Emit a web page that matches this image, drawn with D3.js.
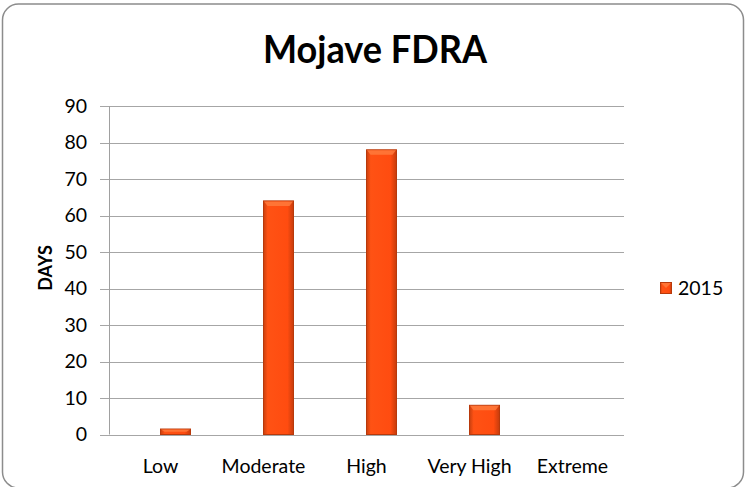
<!DOCTYPE html>
<html>
<head>
<meta charset="utf-8">
<script src="https://cdn.jsdelivr.net/npm/d3@7"></script>
<style>
  html, body { margin: 0; padding: 0; background: #fff; }
  svg { display: block; font-family: Lato, "Open Sans", sans-serif; }
</style>
</head>
<body>
<svg id="chart" width="745" height="487"></svg>
<script>
const categories = ['Low', 'Moderate', 'High', 'Very High', 'Extreme'];
const days2015 = [1.5, 64, 78, 8, 0];
const yTicks = [0, 10, 20, 30, 40, 50, 60, 70, 80, 90];
const seriesName = '2015';

const svg = d3.select('#chart');

// outer frame
svg.append('rect')
    .attr('x', 2.5).attr('y', 4)
    .attr('width', 741).attr('height', 484)
    .attr('rx', 16)
    .attr('fill', '#fff')
    .attr('stroke', '#8c8c8c')
    .attr('stroke-width', 1.5);

const defs = svg.append('defs');
const grad = defs.append('linearGradient').attr('id', 'barGrad')
    .attr('x1', '0%').attr('x2', '100%').attr('y1', '0%').attr('y2', '0%');
grad.append('stop').attr('offset', '0%').attr('stop-color', '#c9400f');
grad.append('stop').attr('offset', '14%').attr('stop-color', '#ff5214');
grad.append('stop').attr('offset', '80%').attr('stop-color', '#ff4c10');
grad.append('stop').attr('offset', '100%').attr('stop-color', '#c63c0c');

const x = d3.scaleBand().domain(categories).range([109, 624]);
const y = d3.scaleLinear().domain([0, 90]).range([434.5, 106]);

// gridlines
svg.append('g')
    .selectAll('line')
    .data(yTicks)
    .join('line')
    .attr('x1', 100).attr('x2', 624)
    .attr('y1', d => Math.round(y(d)) + 0.5)
    .attr('y2', d => Math.round(y(d)) + 0.5)
    .attr('stroke', '#a6a6a6')
    .attr('stroke-width', 1);

// y axis line
svg.append('line')
    .attr('x1', 109.5).attr('x2', 109.5)
    .attr('y1', y(90)).attr('y2', y(0))
    .attr('stroke', '#a0a0a0');

// y tick labels
svg.append('g')
    .selectAll('text')
    .data(yTicks)
    .join('text')
    .attr('x', 87)
    .attr('y', d => y(d))
    .attr('dy', '0.35em')
    .attr('text-anchor', 'end')
    .attr('font-size', 19.5)
    .attr('fill', '#000')
    .text(d => d);

// category labels
svg.append('g')
    .selectAll('text')
    .data(categories)
    .join('text')
    .attr('x', d => x(d) + x.bandwidth() / 2)
    .attr('y', 473)
    .attr('text-anchor', 'middle')
    .attr('font-size', 19.5)
    .attr('fill', '#000')
    .text(d => d);

// bars (offset to the right of each category center)
const barW = 30;
const bars = svg.append('g')
    .selectAll('g')
    .data(categories.map((c, i) => ({ c, v: days2015[i] })).filter(d => d.v > 0))
    .join('g');

bars.append('rect')
    .attr('x', d => x(d.c) + x.bandwidth() / 2)
    .attr('y', d => y(d.v))
    .attr('width', barW)
    .attr('height', d => y(0) - y(d.v))
    .attr('fill', 'url(#barGrad)')
    .attr('stroke', '#b8390b')
    .attr('stroke-width', 1);

// top bevel
bars.append('path')
    .attr('d', d => {
        const x0 = x(d.c) + x.bandwidth() / 2, y0 = y(d.v);
        const h = Math.min(5, (y(0) - y0) / 2);
        return `M${x0 + 0.5},${y0 + 0.5} L${x0 + barW - 0.5},${y0 + 0.5} L${x0 + barW - 4},${y0 + h} L${x0 + 4},${y0 + h} Z`;
    })
    .attr('fill', '#ff7a3c')
    .attr('opacity', 0.85);

// title
svg.append('text')
    .attr('x', 375)
    .attr('y', 63)
    .attr('text-anchor', 'middle')
    .attr('font-size', 38)
    .attr('font-weight', 'bold')
    .attr('textLength', 224)
    .attr('lengthAdjust', 'spacingAndGlyphs')
    .attr('fill', '#000')
    .text('Mojave FDRA');

// y axis title
svg.append('text')
    .attr('transform', 'translate(52,268) rotate(-90)')
    .attr('text-anchor', 'middle')
    .attr('font-size', 18)
    .attr('font-weight', 'bold')
    .attr('fill', '#000')
    .text('DAYS');

// legend
const lg = svg.append('g').attr('transform', 'translate(660,282)');
lg.append('rect')
    .attr('x', 0.5).attr('y', 0.5)
    .attr('width', 11).attr('height', 11)
    .attr('fill', 'url(#barGrad)')
    .attr('stroke', '#b8390b');
lg.append('path')
    .attr('d', 'M1,1 L11,1 L6,6 Z')
    .attr('fill', '#ff7a3c')
    .attr('opacity', 0.85);
lg.append('text')
    .attr('x', 18)
    .attr('y', 6)
    .attr('dy', '0.35em')
    .attr('font-size', 19.5)
    .attr('fill', '#000')
    .text(seriesName);
</script>
</body>
</html>
